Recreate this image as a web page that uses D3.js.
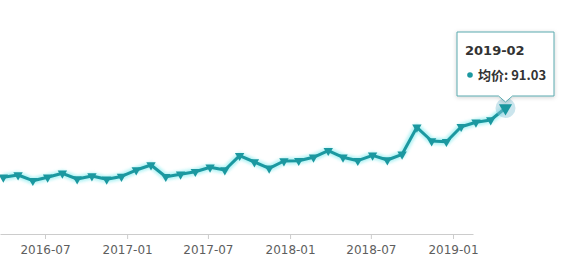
<!DOCTYPE html>
<html>
<head>
<meta charset="utf-8">
<script src="https://cdn.jsdelivr.net/npm/d3@7"></script>
<style>
  body { margin: 0; background: #fff; }
  svg { display: block; }
</style>
</head>
<body>
<svg id="chart" width="565" height="265"></svg>
<script>
// monthly average price, 2016-04 .. 2019-02
const months = [
  "2016-04", "2016-05", "2016-06", "2016-07", "2016-08", "2016-09", "2016-10", "2016-11", "2016-12",
  "2017-01", "2017-02", "2017-03", "2017-04", "2017-05", "2017-06", "2017-07", "2017-08", "2017-09",
  "2017-10", "2017-11", "2017-12", "2018-01", "2018-02", "2018-03", "2018-04", "2018-05", "2018-06",
  "2018-07", "2018-08", "2018-09", "2018-10", "2018-11", "2018-12", "2019-01", "2019-02"
]
const prices = [
  40.97, 42.63, 38.51, 40.97, 43.86, 39.74, 41.91, 39.52, 41.55,
  46.24, 49.86, 41.40, 43.14, 45.01, 48.19, 46.24, 56.58, 52.02,
  47.47, 52.75, 52.96, 55.42, 60.19, 55.42, 52.96, 56.86, 53.47,
  57.59, 77.10, 67.20, 66.69, 77.53, 80.71, 82.37, 91.03
]
const tickLabels = ["2016-07", "2017-01", "2017-07", "2018-01", "2018-07", "2019-01"]
const seriesName = "均价"

const svg = d3.select("#chart")
const lineColor = "#1b98a0"
const axisY = 234

const parseMonth = d3.timeParse("%Y-%m")

const x = d3.scalePoint()
  .domain(months)
  .range([3.3, 505.5])

const y = d3.scaleLinear()
  .domain([0, 100])
  .range([axisY, axisY - 138.4])

// axis ticks sit on their own time scale
const xa = d3.scaleTime()
  .domain([parseMonth(tickLabels[0]), parseMonth(tickLabels[tickLabels.length - 1])])
  .range([45, 453])
xa.domain([xa.invert(0), xa.invert(473)]).range([0, 473])

const defs = svg.append("defs")
defs.append("filter").attr("id", "glow")
  .attr("x", "-10%").attr("y", "-50%").attr("width", "120%").attr("height", "200%")
  .append("feGaussianBlur").attr("stdDeviation", 1.8)
const shadow = defs.append("filter").attr("id", "tipShadow")
  .attr("x", "-20%").attr("y", "-20%").attr("width", "140%").attr("height", "150%")
shadow.append("feDropShadow")
  .attr("dx", 0).attr("dy", 1).attr("stdDeviation", 2)
  .attr("flood-color", "#000").attr("flood-opacity", 0.18)

// x axis
const gx = svg.append("g")
  .attr("transform", `translate(0,${axisY})`)
  .call(d3.axisBottom(xa)
    .tickValues(tickLabels.map(parseMonth))
    .tickFormat(d3.timeFormat("%Y-%m"))
    .tickSize(5)
    .tickSizeOuter(0)
    .tickPadding(6))
gx.select(".domain").attr("stroke", "#ccc")
gx.selectAll(".tick line").attr("stroke", "#ccc")
gx.selectAll(".tick text")
  .attr("fill", "#5e5e5e")
  .attr("font-family", "DejaVu Sans, Verdana, sans-serif")
  .attr("font-size", 12)

const data = months.map((m, i) => ({ month: m, value: prices[i] }))

const line = d3.line()
  .x(d => x(d.month))
  .y(d => y(d.value))

// halo under the line
svg.append("path")
  .datum(data)
  .attr("fill", "none")
  .attr("stroke", "#9ff0f2")
  .attr("stroke-width", 7)
  .attr("stroke-linejoin", "round")
  .attr("opacity", 0.8)
  .attr("filter", "url(#glow)")
  .attr("d", line)

svg.append("path")
  .datum(data)
  .attr("fill", "none")
  .attr("stroke", lineColor)
  .attr("stroke-width", 3)
  .attr("stroke-linejoin", "round")
  .attr("d", line)

const last = data[data.length - 1]

// highlight ring on the hovered point
svg.append("circle")
  .attr("cx", x(last.month))
  .attr("cy", y(last.value))
  .attr("r", 10)
  .attr("fill", "#8cc6d6")
  .attr("fill-opacity", 0.45)

const tri = d3.symbol().type(d3.symbolTriangle)
svg.append("g")
  .selectAll("path")
  .data(data)
  .enter().append("path")
  .attr("transform", d => `translate(${x(d.month)},${y(d.value)}) rotate(180)`)
  .attr("d", (d, i) => tri.size(i === data.length - 1 ? 75 : 38)())
  .attr("fill", lineColor)

// tooltip
const tx = x(last.month), ty = y(last.value)
const box = { left: 457, right: 554, top: 32, bottom: 96 }
const tip = svg.append("g")
tip.append("path")
  .attr("d", `M${box.left},${box.top} H${box.right} V${box.bottom} H${tx + 7}
    L${tx},${ty - 6} L${tx - 7},${box.bottom} H${box.left} Z`)
  .attr("fill", "#fff")
  .attr("stroke", "#5aa9ae")
  .attr("stroke-width", 1)
  .attr("filter", "url(#tipShadow)")
tip.append("text")
  .attr("x", box.left + 8)
  .attr("y", 55)
  .attr("fill", "#333")
  .attr("font-family", "DejaVu Sans, Verdana, sans-serif")
  .attr("font-weight", "bold")
  .attr("font-size", 13)
  .text(last.month)
tip.append("circle")
  .attr("cx", box.left + 13)
  .attr("cy", 75)
  .attr("r", 2.8)
  .attr("fill", lineColor)
tip.append("text")
  .attr("x", box.left + 21)
  .attr("y", 80)
  .attr("fill", "#333")
  .attr("font-family", "Noto Sans CJK SC, Liberation Sans, sans-serif")
  .attr("font-weight", "bold")
  .attr("font-size", 13)
  .text(`${seriesName}: ${last.value.toFixed(2)}`)
</script>
</body>
</html>
